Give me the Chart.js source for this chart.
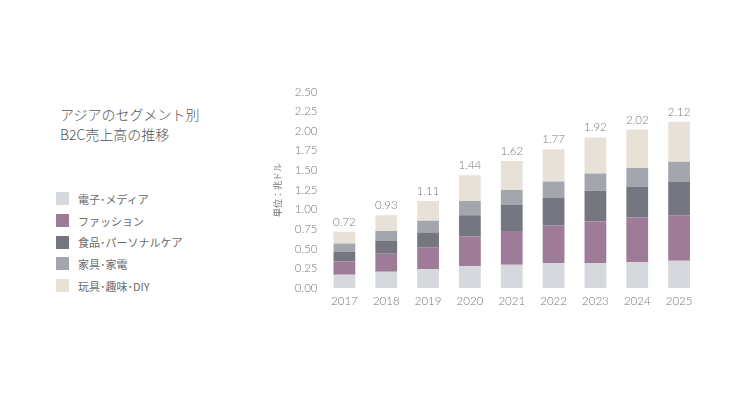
<!DOCTYPE html>
<html>
<head>
<meta charset="utf-8">
<script src="https://cdn.jsdelivr.net/npm/chart.js@4.4.0/dist/chart.umd.min.js"></script>
<style>
  body { margin: 0; background: #fff; width: 744px; height: 418px; position: relative; overflow: hidden;
         font-family: "Lato", "Noto Sans CJK JP", sans-serif; color: #555; }
  #title { position: absolute; left: 60px; top: 104px; font-size: 14px; line-height: 20px; color: #555;
           font-family: "Noto Sans CJK JP", sans-serif; font-weight: 300; }
  #legend { position: absolute; left: 56px; top: 188px; }
  .item { height: 21.7px; display: flex; align-items: center; font-size: 11px; color: #6a6a6a;
          font-family: "Noto Sans CJK JP", sans-serif; }
  .box { width: 13px; height: 13px; margin-right: 9px; }
  #wrap { position: absolute; left: 272px; top: 79px; width: 428px; height: 235px; }
</style>
</head>
<body>
<div id="title">アジアのセグメント別<br>B2C売上高の推移</div>
<div id="legend"></div>
<div id="wrap"><canvas id="myChart"></canvas></div>
<script>
// years and segments (兆ドル)
var years = ["2017", "2018", "2019", "2020", "2021", "2022", "2023", "2024", "2025"];
var segments = ["電子･メディア", "ファッション", "食品･パーソナルケア", "家具･家電", "玩具･趣味･DIY"];
var colors = ["#d5d8dc", "#9e7b96", "#747680", "#a4a6ad", "#e8e1d8"];

var electronics = [0.17, 0.21, 0.24, 0.28, 0.30, 0.32, 0.32, 0.33, 0.35];
var fashion     = [0.17, 0.23, 0.28, 0.38, 0.43, 0.48, 0.53, 0.57, 0.58];
var food        = [0.12, 0.16, 0.19, 0.27, 0.33, 0.35, 0.39, 0.39, 0.43];
var furniture   = [0.11, 0.13, 0.15, 0.18, 0.19, 0.21, 0.22, 0.24, 0.25];
var toys        = [0.15, 0.20, 0.25, 0.33, 0.37, 0.41, 0.46, 0.49, 0.51];
var totals      = [0.72, 0.93, 1.11, 1.44, 1.62, 1.77, 1.92, 2.02, 2.12];

var series = [electronics, fashion, food, furniture, toys];

// legend
var legend = document.getElementById("legend");
for (var i = 0; i < segments.length; i++) {
  var row = document.createElement("div");
  row.className = "item";
  row.innerHTML = '<span class="box" style="background:' + colors[i] + '"></span>' + segments[i];
  legend.appendChild(row);
}

var datasets = [];
for (var i = 0; i < series.length; i++) {
  datasets.push({
    label: segments[i],
    data: series[i],
    backgroundColor: colors[i],
    barPercentage: 0.52,
    categoryPercentage: 1.0
  });
}

// totals above the bars
var totalLabels = {
  id: "totalLabels",
  afterDatasetsDraw: function(chart) {
    var ctx = chart.ctx;
    var meta = chart.getDatasetMeta(chart.data.datasets.length - 1);
    ctx.save();
    ctx.font = "300 11.5px Lato, sans-serif";
    ctx.fillStyle = "#777";
    ctx.textAlign = "center";
    ctx.textBaseline = "bottom";
    for (var i = 0; i < meta.data.length; i++) {
      var bar = meta.data[i];
      ctx.fillText(totals[i].toFixed(2), bar.x, bar.y - 4);
    }
    ctx.restore();
  }
};

var ctx = document.getElementById("myChart");
new Chart(ctx, {
  type: "bar",
  data: { labels: years, datasets: datasets },
  plugins: [totalLabels],
  options: {
    responsive: true,
    maintainAspectRatio: false,
    animation: false,
    layout: { padding: { top: 8, right: 0, bottom: 0, left: 0 } },
    plugins: { legend: { display: false }, tooltip: { enabled: false } },
    scales: {
      x: {
        stacked: true,
        grid: { display: false, drawTicks: false },
        border: { display: false },
        ticks: { color: "#777", font: { family: "Lato", size: 11.5, weight: 300 }, padding: 6 }
      },
      y: {
        stacked: true,
        min: 0,
        max: 2.5,
        grid: { display: false, drawTicks: false },
        border: { display: false },
        ticks: {
          stepSize: 0.25,
          color: "#777",
          padding: 6,
          font: { family: "Lato", size: 11.5, weight: 300 },
          callback: function(v) { return v.toFixed(2); }
        },
        title: {
          display: true,
          text: "単位：兆ドル",
          color: "#777",
          font: { family: "Noto Sans CJK JP", size: 9 },
          padding: { top: 0, bottom: 6 }
        }
      }
    }
  }
});
</script>
</body>
</html>
